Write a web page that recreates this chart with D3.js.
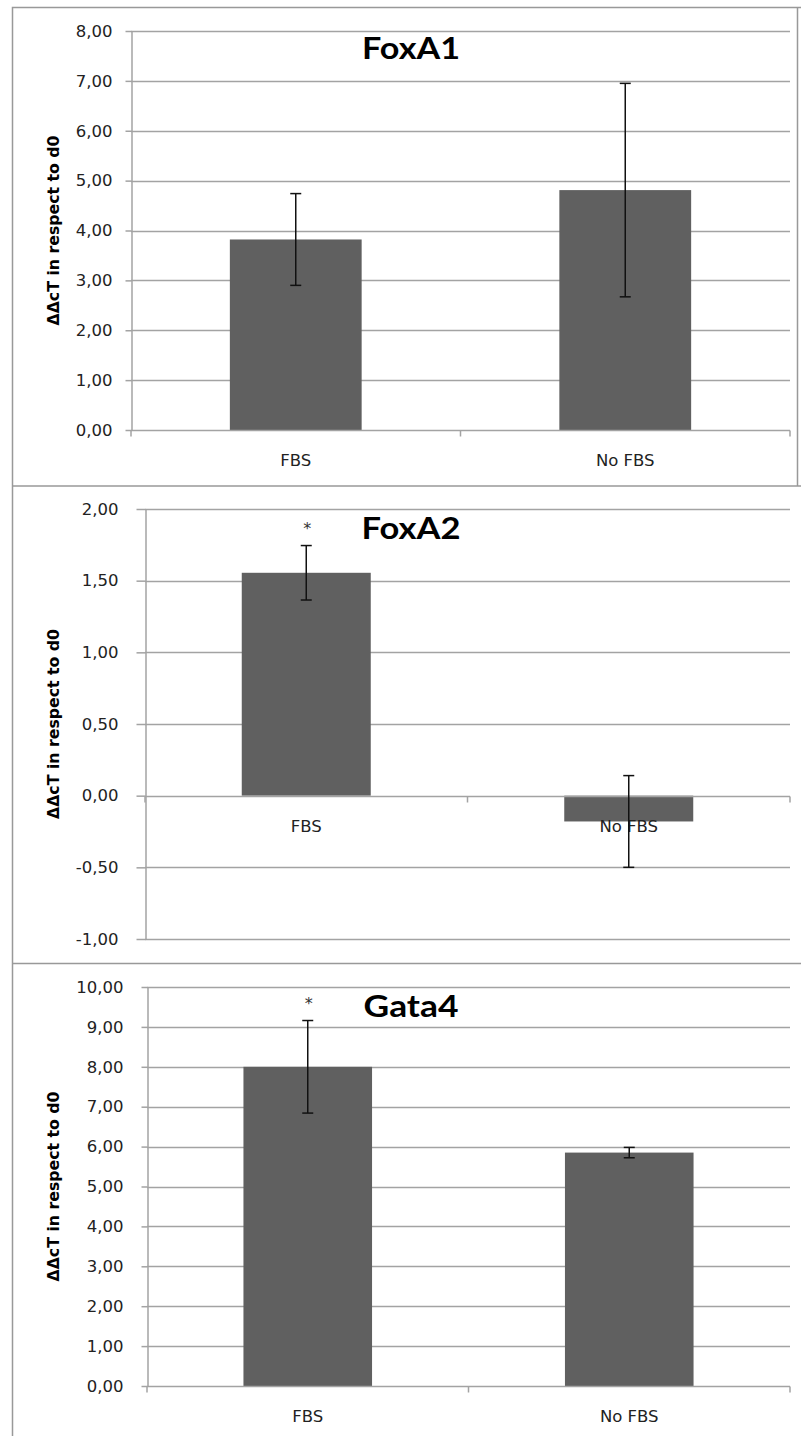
<!DOCTYPE html>
<html>
<head>
<meta charset="utf-8">
<script src="https://cdn.jsdelivr.net/npm/d3@7"></script>
<style>
  body { margin: 0; background: #fff; }
  svg { display: block; }
</style>
</head>
<body>
<div id="chart"></div>
<script>
// data
const categories = ['FBS', 'No FBS'];

const foxA1Values = [3.82, 4.81];
const foxA1Errors = [0.92, 2.14];
const foxA1Stars = ['', ''];
const foxA1Ticks = [0, 1, 2, 3, 4, 5, 6, 7, 8];

const foxA2Values = [1.555, -0.18];
const foxA2Errors = [0.19, 0.32];
const foxA2Stars = ['*', ''];
const foxA2Ticks = [-1, -0.5, 0, 0.5, 1, 1.5, 2];

const gata4Values = [8.0, 5.85];
const gata4Errors = [1.16, 0.13];
const gata4Stars = ['*', ''];
const gata4Ticks = [0, 1, 2, 3, 4, 5, 6, 7, 8, 9, 10];

const yLabel = 'ΔΔcT in respect to d0';

const W = 801, H = 1436;
const barColor = '#606060';
const gridColor = '#a3a3a3';
const frameColor = '#999';
const textFont = '"DejaVu Sans", Verdana, sans-serif';

const panels = [
  { title: 'FoxA1', values: foxA1Values, errors: foxA1Errors, stars: foxA1Stars, ticks: foxA1Ticks,
    left: 131, right: 790, top: 31, bottom: 430, tickLen: 6, tickPad: 13, titleY: 59, titleW: 98 },
  { title: 'FoxA2', values: foxA2Values, errors: foxA2Errors, stars: foxA2Stars, ticks: foxA2Ticks,
    left: 145, right: 790, top: 509, bottom: 939, tickLen: 9, tickPad: 18, titleY: 539, titleW: 99 },
  { title: 'Gata4', values: gata4Values, errors: gata4Errors, stars: gata4Stars, ticks: gata4Ticks,
    left: 147, right: 790, top: 987, bottom: 1386, tickLen: 6, tickPad: 18, titleY: 1017, titleW: 95 }
];

const fmt = v => d3.format('.2f')(v).replace('.', ',').replace('−', '-');

const svg = d3.select('#chart')
  .append('svg')
  .attr('width', W)
  .attr('height', H);

svg.append('rect').attr('width', W).attr('height', H).attr('fill', '#fff');

// outer frame and panel separators
svg.append('path')
  .attr('d', `M${W},7.5H12.5V${H}`)
  .attr('fill', 'none')
  .attr('stroke', frameColor)
  .attr('stroke-width', 1.5);
svg.append('line').attr('x1', 797.5).attr('x2', 797.5).attr('y1', 7).attr('y2', 486)
  .attr('stroke', frameColor).attr('stroke-width', 1.5);

[486, 963.5].forEach(yy => {
  svg.append('line')
    .attr('x1', 12).attr('x2', W)
    .attr('y1', yy).attr('y2', yy)
    .attr('stroke', frameColor)
    .attr('stroke-width', 1.5);
});

panels.forEach(p => {
  const g = svg.append('g');

  const x = d3.scaleBand()
    .domain(categories)
    .range([p.left, p.right])
    .paddingInner(0.6)
    .paddingOuter(0.3);

  const y = d3.scaleLinear()
    .domain([d3.min(p.ticks), d3.max(p.ticks)])
    .range([p.bottom, p.top]);

  // gridlines
  g.selectAll('.grid')
    .data(p.ticks.filter(t => t !== 0))
    .enter()
    .append('line')
    .attr('x1', p.left).attr('x2', p.right)
    .attr('y1', d => Math.round(y(d)) + 0.5)
    .attr('y2', d => Math.round(y(d)) + 0.5)
    .attr('stroke', gridColor)
    .attr('stroke-width', 1.3);

  // bars
  g.selectAll('.bar')
    .data(categories)
    .enter()
    .append('rect')
    .attr('x', d => x(d))
    .attr('width', x.bandwidth())
    .attr('y', (d, i) => y(Math.max(0, p.values[i])))
    .attr('height', (d, i) => Math.abs(y(p.values[i]) - y(0)))
    .attr('fill', barColor);

  // x axis at zero with boundary ticks
  const y0 = Math.round(y(0)) + 0.5;
  g.append('line')
    .attr('x1', p.left).attr('x2', p.right)
    .attr('y1', y0).attr('y2', y0)
    .attr('stroke', gridColor)
    .attr('stroke-width', 1.5);

  const bounds = [x.range()[0], x.range()[0] + x.step(), x.range()[1]];
  g.selectAll('.xtick')
    .data(bounds)
    .enter()
    .append('line')
    .attr('x1', d => d).attr('x2', d => d)
    .attr('y1', y0).attr('y2', y0 + 6)
    .attr('stroke', gridColor)
    .attr('stroke-width', 1.5);

  // category labels
  g.selectAll('.cat')
    .data(categories)
    .enter()
    .append('text')
    .attr('x', d => x(d) + x.bandwidth() / 2)
    .attr('y', y(0) + 36)
    .attr('text-anchor', 'middle')
    .style('font-family', textFont)
    .style('font-size', '16.5px')
    .style('fill', '#222')
    .text(d => d);

  // y axis
  const yAxis = g.append('g')
    .attr('transform', `translate(${p.left + 0.5},0)`)
    .call(d3.axisLeft(y)
      .tickValues(p.ticks)
      .tickSize(p.tickLen)
      .tickSizeOuter(0)
      .tickPadding(p.tickPad)
      .tickFormat(fmt));

  yAxis.select('.domain')
    .attr('stroke', gridColor)
    .attr('stroke-width', 1.5);
  yAxis.selectAll('.tick line')
    .attr('stroke', gridColor)
    .attr('stroke-width', 1.5);
  yAxis.selectAll('.tick text')
    .style('font-family', textFont)
    .style('font-size', '16.5px')
    .style('fill', '#222');

  // error bars
  const err = g.selectAll('.err')
    .data(categories)
    .enter()
    .append('g');

  err.append('line')
    .attr('x1', d => x(d) + x.bandwidth() / 2)
    .attr('x2', d => x(d) + x.bandwidth() / 2)
    .attr('y1', (d, i) => y(p.values[i] + p.errors[i]))
    .attr('y2', (d, i) => y(p.values[i] - p.errors[i]))
    .attr('stroke', '#111')
    .attr('stroke-width', 1.5);

  [1, -1].forEach(s => {
    err.append('line')
      .attr('x1', d => x(d) + x.bandwidth() / 2 - 5.5)
      .attr('x2', d => x(d) + x.bandwidth() / 2 + 5.5)
      .attr('y1', (d, i) => y(p.values[i] + s * p.errors[i]))
      .attr('y2', (d, i) => y(p.values[i] + s * p.errors[i]))
      .attr('stroke', '#111')
      .attr('stroke-width', 1.5);
  });

  // significance stars
  g.selectAll('.star')
    .data(categories)
    .enter()
    .append('text')
    .attr('x', d => x(d) + x.bandwidth() / 2 + 1)
    .attr('y', (d, i) => y(p.values[i] + p.errors[i]) - 12)
    .attr('text-anchor', 'middle')
    .style('font-family', textFont)
    .style('font-size', '16px')
    .style('fill', '#333')
    .text((d, i) => p.stars[i]);

  // title
  g.append('text')
    .attr('x', 411)
    .attr('y', p.titleY)
    .attr('text-anchor', 'middle')
    .attr('textLength', p.titleW)
    .attr('lengthAdjust', 'spacingAndGlyphs')
    .style('font-family', 'Lato, "Open Sans", sans-serif')
    .style('font-weight', 'bold')
    .style('font-size', '30px')
    .style('fill', '#000')
    .text(p.title);

  // y axis label
  g.append('text')
    .attr('transform', `translate(59,${(p.top + p.bottom) / 2}) rotate(-90)`)
    .attr('text-anchor', 'middle')
    .attr('textLength', 190)
    .attr('lengthAdjust', 'spacingAndGlyphs')
    .style('font-family', textFont)
    .style('font-weight', 'bold')
    .style('font-size', '15px')
    .style('fill', '#000')
    .text(yLabel);
});
</script>
</body>
</html>
